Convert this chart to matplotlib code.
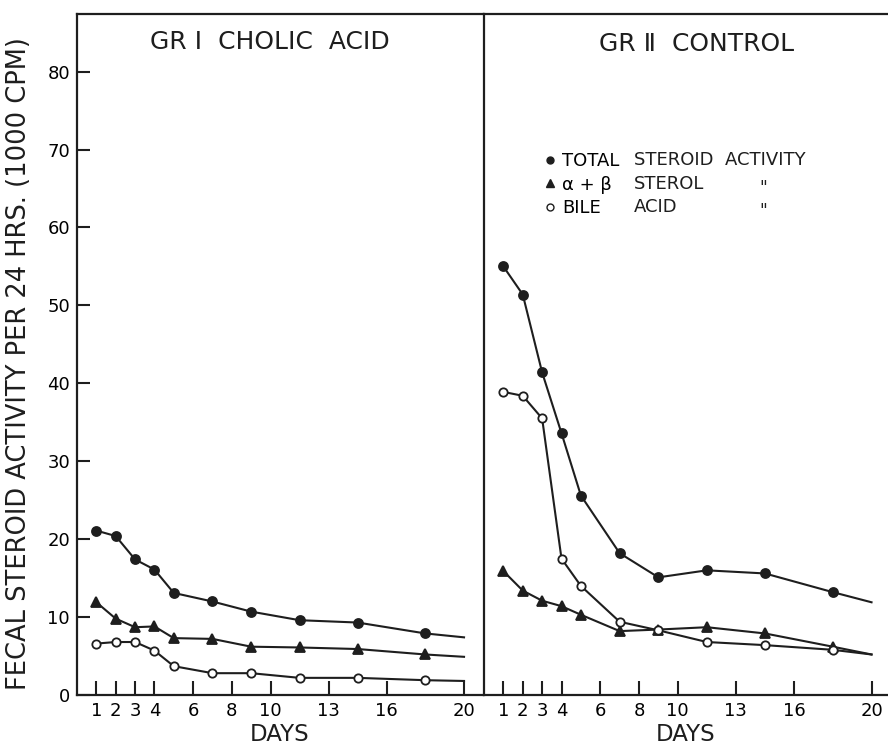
# fecal steroid activity, two panels
import matplotlib
matplotlib.use('Agg')
import matplotlib.pyplot as plt
from matplotlib.lines import Line2D

plt.rcParams['font.family'] = ['DejaVu Sans']

ink = '#1e1e1e'

days_ticks = [1, 2, 3, 4, 6, 8, 10, 13, 16, 20]
y_ticks = [0, 10, 20, 30, 40, 50, 60, 70, 80]

# GR I cholic acid
days_a = [1, 2, 3, 4, 5, 7, 9, 11.5, 14.5, 18]
total_a = [21.1, 20.4, 17.4, 16.1, 13.1, 12.0, 10.7, 9.6, 9.3, 7.9]
sterol_a = [11.9, 9.8, 8.7, 8.8, 7.3, 7.2, 6.2, 6.1, 5.9, 5.2]
bile_a = [6.6, 6.8, 6.8, 5.7, 3.7, 2.8, 2.8, 2.2, 2.2, 1.9]
# last line segment runs on to day 20 without a point
end_a = [7.4, 4.9, 1.8]

# GR II control
days_b = [1, 2, 3, 4, 5, 7, 9, 11.5, 14.5, 18]
total_b = [55.0, 51.4, 41.4, 33.6, 25.6, 18.2, 15.1, 16.0, 15.6, 13.2]
sterol_b = [15.9, 13.4, 12.1, 11.4, 10.3, 8.2, 8.4, 8.7, 7.9, 6.2]
bile_b = [38.9, 38.4, 35.5, 17.5, 14.0, 9.4, 8.3, 6.8, 6.4, 5.8]
end_b = [11.9, 5.2, 5.2]

end_day = 20

fig = plt.figure(figsize=(8.88, 7.46), dpi=100)
ax1 = fig.add_axes([77 / 888, 51 / 746, (483 - 77) / 888, 681 / 746])
ax2 = fig.add_axes([484 / 888, 51 / 746, (888 - 484) / 888, 681 / 746], sharey=ax1)


def draw(ax, days, total, sterol, bile, ends):
    series = [(total, 'o', ink, 6.5), (sterol, '^', ink, 7.5), (bile, 'o', 'white', 6)]
    for (vals, mk, face, ms), e in zip(series, ends):
        ax.plot(days + [end_day], vals + [e], color=ink, lw=1.5)
        ax.plot(days, vals, ls='none', marker=mk, ms=ms, mfc=face, mec=ink, mew=1.3)


draw(ax1, days_a, total_a, sterol_a, bile_a, end_a)
draw(ax2, days_b, total_b, sterol_b, bile_b, end_b)

ax1.set_xlim(0, 20.98)
ax2.set_xlim(0, 20.85)
ax1.set_ylim(0, 87.4)

for ax in (ax1, ax2):
    ax.set_xticks(days_ticks)
    ax.set_xticklabels([str(d) for d in days_ticks], fontsize=13)
    ax.tick_params(axis='x', direction='in', length=10, width=1.5, color=ink, pad=5)
    ax.set_xlabel('DAYS', fontsize=16.5, labelpad=2, color=ink)
    ax.spines['right'].set_visible(False)
    for s in ('left', 'top', 'bottom'):
        ax.spines[s].set_linewidth(1.6)
        ax.spines[s].set_color(ink)

ax1.set_yticks(y_ticks)
ax1.set_yticklabels([str(v) for v in y_ticks], fontsize=13)
ax1.tick_params(axis='y', direction='in', length=9, width=1.5, color=ink, pad=5)
ax2.tick_params(axis='y', left=False, labelleft=False)
ax1.set_ylabel('FECAL STEROID ACTIVITY PER 24 HRS. (1000 CPM)', fontsize=18.5,
               color=ink)
ax1.yaxis.set_label_coords(-0.112, 0.486)

ax1.text(0.475, 0.959, 'GR Ⅰ  CHOLIC  ACID', transform=ax1.transAxes, ha='center',
         va='center', fontsize=18, color=ink)
ax2.text(0.525, 0.956, 'GR Ⅱ  CONTROL', transform=ax2.transAxes, ha='center',
         va='center', fontsize=18, color=ink)

# legend: first word next to the key, rest of the text in aligned columns
handles = [Line2D([], [], ls='none', marker='o', ms=5, mfc=ink, mec=ink),
           Line2D([], [], ls='none', marker='^', ms=6, mfc=ink, mec=ink),
           Line2D([], [], ls='none', marker='o', ms=5, mfc='white', mec=ink)]
labels = ['TOTAL', 'α + β', 'BILE']
ax2.legend(handles, labels, loc='upper left', bbox_to_anchor=(0.131, 0.8076),
           frameon=False, fontsize=13, handlelength=0.6, handletextpad=0.4,
           labelspacing=0.3, borderaxespad=0)
rest = ['STEROID  ACTIVITY', 'STEROL', 'ACID']
ditto = ['', '"', '"']
rows = [0.7856, 0.7503, 0.7166]
for r, t, d in zip(rows, rest, ditto):
    ax2.text(0.371, r, t, transform=ax2.transAxes, ha='left', va='center',
             fontsize=13, color=ink)
    if d:
        ax2.text(0.69, r - 0.006, d, transform=ax2.transAxes, ha='center',
                 va='center', fontsize=12, color=ink)

plt.savefig('out.png', dpi=100)
